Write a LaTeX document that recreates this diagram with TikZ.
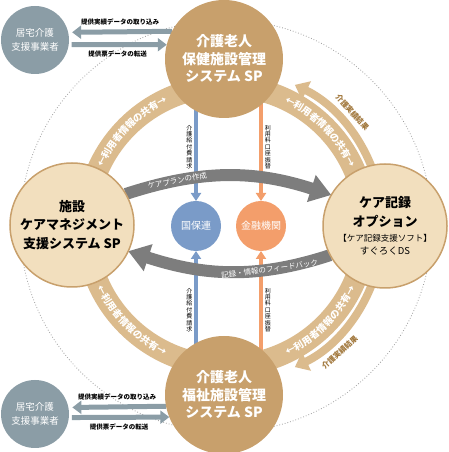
\documentclass[tikz,border=0pt]{standalone}
\usepackage{fontspec}
\setmainfont{Noto Sans CJK JP}
\usepackage{tikz}
\usetikzlibrary{arrows.meta,decorations.text}
\definecolor{kgtan}{RGB}{200,160,108}
\definecolor{kgbeige}{RGB}{242,223,190}
\definecolor{kgband}{RGB}{219,187,141}
\definecolor{kgbrown}{RGB}{160,118,58}
\definecolor{kggray}{RGB}{125,125,125}
\definecolor{kgblue}{RGB}{122,155,200}
\definecolor{kgorange}{RGB}{243,158,107}
\definecolor{kgslate}{RGB}{139,157,166}
\pgfdeclarelayer{back}
\pgfdeclarelayer{mid}
\pgfsetlayers{back,mid,main}

\begin{document}
\begin{tikzpicture}[x=1pt,y=1pt,
  system/.style={circle,fill=kgtan,text=white,minimum size=118pt,inner sep=0pt,outer sep=0pt,align=center,font=\bfseries\fontsize{14}{17.5}\selectfont},
  option/.style={circle,fill=kgbeige,draw=kgtan,line width=1.5pt,minimum size=124pt,inner sep=0pt,outer sep=0pt,align=center,font=\bfseries\fontsize{13}{18.5}\selectfont},
  agency/.style={circle,text=white,minimum size=50pt,inner sep=0pt,outer sep=0pt,font=\fontsize{10}{12}\selectfont},
  office/.style={circle,fill=kgslate,text=white,minimum size=68pt,inner sep=0pt,outer sep=0pt,align=center,font=\fontsize{9.5}{14}\selectfont},
  datalink/.style={draw=kgslate,line width=5pt,-{Triangle[width=13pt,length=9pt]}},
  datanote/.style={font=\bfseries\fontsize{6.5}{7}\selectfont,inner sep=1pt},
  payline/.style={line width=3.5pt,-{Triangle[width=10pt,length=8pt]}},
  paynote/.style={text=black,font=\fontsize{6}{6.4}\selectfont,align=center,inner sep=1pt},
  plan/.style={draw=kggray,line width=12pt,-{Triangle[width=27pt,length=21pt]}},
  plannote/.style={text=white,font=\fontsize{7.5}{8}\selectfont,inner sep=0pt},
  share/.style={draw=kgband,line width=22pt,postaction={decorate},decoration={text along path,text align=center,text color=white,raise=-3.5pt,text={|\bfseries\fontsize{9.6}{9.6}\selectfont|←利用者情報の共有→}}},
  result/.style={draw=kgband,line width=8pt,-{Triangle[width=20pt,length=13pt]}},
  resultnote/.style={text=kgbrown,font=\bfseries\fontsize{7.5}{8}\selectfont,inner sep=0pt}]

\path[use as bounding box] (0,0) rectangle (448,452);
\coordinate (hub) at (226,226);
\node[system] (hoken) at (224,393) {介護老人\\保健施設管理\\システム SP};
\node[system] (fukushi) at (224,57) {介護老人\\福祉施設管理\\システム SP};
\node[option] (care) at (72,227) {施設\\ケアマネジメント\\支援システム SP};
\node[option] (record) at (385,226) {ケア記録\\オプション\\[-3pt]{\mdseries\fontsize{8.5}{11}\selectfont【ケア記録支援ソフト】}\\[-6pt]{\mdseries\fontsize{9.5}{11}\selectfont すぐろくDS}};
\node[agency,fill=kgblue] (kokuho) at (196,226) {国保連};
\node[agency,fill=kgorange] (bank) at (261,226) {金融機関};
\node[office] (kyo1) at (35,412) {居宅介護\\支援事業者};
\node[office] (kyo2) at (35,38) {居宅介護\\支援事業者};

\begin{pgfonlayer}{back}
\draw[kggray!75,dotted,line width=.8pt] (hub) circle (206);
\foreach \sa/\ea in {170/100,80/10,190/260,280/350}
  \draw[share] (hub) ++(\sa:140) arc[start angle=\sa,end angle=\ea,radius=140];
\draw[result] (hub) ++(8:157) arc[start angle=8,end angle=64,radius=157];
\draw[result] (hub) ++(-8:157) arc[start angle=-8,end angle=-64,radius=157];
\path (hub) ++(42:170) node[resultnote,rotate=-48] (res1) {介護実績結果};
\path (hub) ++(-48:170) node[resultnote,rotate=42] (res2) {介護実績結果};
\draw[payline,kgblue] (hoken.center -| kokuho) -- node[pos=.62,left=1pt,paynote] (claimtop) {介\\護\\給\\付\\費\\請\\求} (kokuho);
\draw[payline,kgorange] (hoken.center -| bank) -- node[pos=.62,right=1pt,paynote] (debittop) {利\\用\\料\\口\\座\\振\\替} (bank);
\draw[payline,kgblue] (fukushi.center -| kokuho) -- node[pos=.59,left=1pt,paynote] (claimbot) {介\\護\\給\\付\\費\\請\\求} (kokuho);
\draw[payline,kgorange] (fukushi.center -| bank) -- node[pos=.59,right=1pt,paynote] (debitbot) {利\\用\\料\\口\\座\\振\\替} (bank);
\draw[datalink,shorten >=4pt] (hoken.152.8) -- node[above=3pt,datanote] (take1) {提供実績データの取り込み} (kyo1.13.6);
\draw[datalink,shorten <=3pt] (kyo1.-8.5) -- node[below=3pt,datanote] (send1) {提供票データの転送} (hoken.166.3);
\draw[datalink,shorten >=4pt] (fukushi.191.7) -- node[above=3pt,datanote] (take2) {提供実績データの取り込み} (kyo2.11.9);
\draw[datalink,shorten <=3pt] (kyo2.-6.8) -- node[below=3pt,datanote] (send2) {提供票データの転送} (fukushi.202.9);
\end{pgfonlayer}

\begin{pgfonlayer}{mid}
\draw[plan] (care.30) to[out=18,in=162] node[pos=.24,sloped,plannote] (plantext) {ケアプランの作成} (record.150);
\draw[plan] (record.208) to[out=198,in=-18] node[pos=.29,sloped,plannote] (backtext) {記録・情報のフィードバック} (care.-25);
\end{pgfonlayer}

\end{tikzpicture}
\end{document}
